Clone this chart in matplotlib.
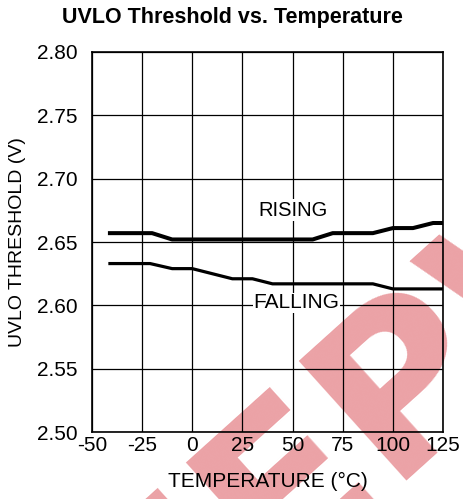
import matplotlib.pyplot as plt

plt.rcParams['font.family'] = ['Liberation Sans', 'DejaVu Sans']
plt.rcParams['axes.unicode_minus'] = False

# rising / falling UVLO threshold
temp_rising = [-41, -20, -10, 60, 70, 90, 100, 110, 120, 125]
uvlo_rising = [2.657, 2.657, 2.652, 2.652, 2.657, 2.657, 2.661, 2.661, 2.665, 2.665]

temp_falling = [-41, -21, -10, 0, 20, 30, 40, 90, 100, 125]
uvlo_falling = [2.633, 2.633, 2.629, 2.629, 2.621, 2.621, 2.617, 2.617, 2.613, 2.613]

x_ticks = [-50, -25, 0, 25, 50, 75, 100, 125]
y_ticks = [2.50, 2.55, 2.60, 2.65, 2.70, 2.75, 2.80]

fig = plt.figure(figsize=(4.64, 4.99), dpi=100)
ax = fig.add_axes([0.198, 0.134, 0.757, 0.762])
ax.patch.set_alpha(0)

# watermark behind everything
fig.text(0.83, 0.20, 'EEPW', rotation=42, fontsize=160, fontweight='bold',
         color='#eba2a6', ha='center', va='center', zorder=-1,
         family='DejaVu Sans')

ax.plot(temp_rising, uvlo_rising, color='black', lw=2.9, zorder=3)
ax.plot(temp_falling, uvlo_falling, color='black', lw=2.3, zorder=3)

ax.text(50, 2.675, 'RISING', fontsize=14.5, ha='center', va='center',
        bbox=dict(facecolor='white', edgecolor='none', pad=1), zorder=2)
ax.text(52, 2.602, 'FALLING', fontsize=15, ha='center', va='center',
        bbox=dict(facecolor='white', edgecolor='none', pad=0.5), zorder=2)

ax.set_xlim(-50, 125)
ax.set_ylim(2.50, 2.80)
ax.set_xticks(x_ticks)
ax.set_yticks(y_ticks)
ax.set_yticklabels([f'{v:.2f}' for v in y_ticks])
ax.grid(True, color='black', lw=0.9, zorder=1)
ax.set_axisbelow(True)
ax.tick_params(length=0, labelsize=15)
ax.tick_params(axis='y', pad=10)
ax.tick_params(axis='x', pad=3)
for s in ax.spines.values():
    s.set_linewidth(1.2)

ax.set_xlabel('TEMPERATURE (°C)', fontsize=15, labelpad=12)
ax.set_ylabel('UVLO THRESHOLD (V)', fontsize=14, labelpad=8)
fig.text(0.5, 0.965, 'UVLO Threshold vs. Temperature', fontsize=15.5,
         fontweight='bold', ha='center', va='center')

fig.savefig('out.png', dpi=100)
